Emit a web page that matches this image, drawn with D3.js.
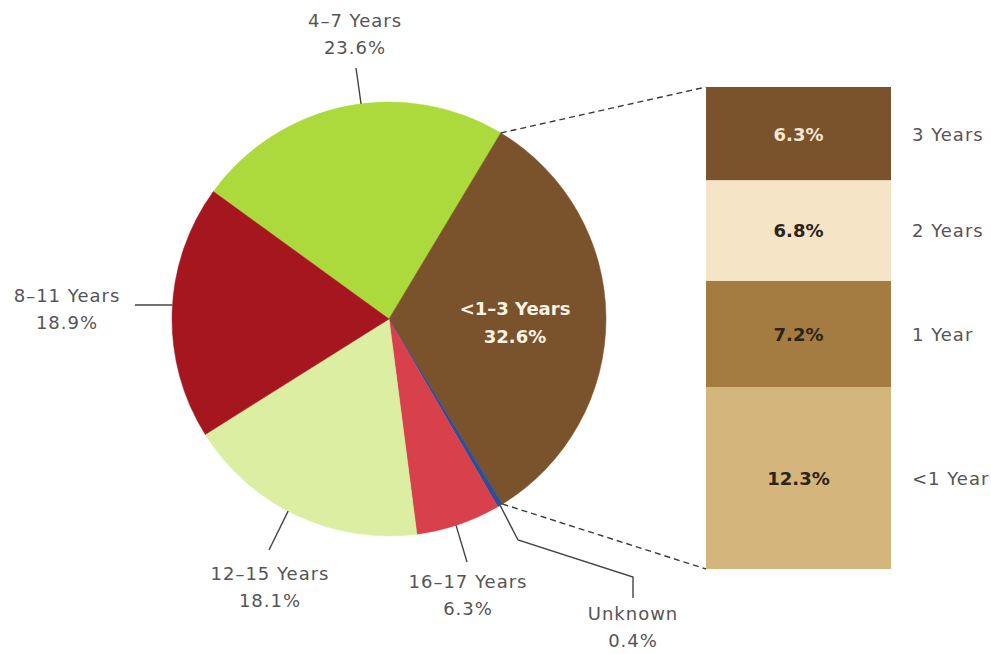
<!DOCTYPE html>
<html>
<head>
<meta charset="utf-8">
<script src="https://cdn.jsdelivr.net/npm/d3@7"></script>
<style>
  html, body { margin: 0; padding: 0; background: #fff; }
  svg { display: block; }
  .lbl { font-family: "DejaVu Sans", sans-serif; font-size: 18px; fill: #555; letter-spacing: 1px; }
  .bold { font-family: "DejaVu Sans", sans-serif; font-size: 18px; font-weight: bold; }
</style>
</head>
<body>
<svg id="chart" width="991" height="654"></svg>
<script>
// Share of cases by time in category
const categories = ["4–7 Years", "<1–3 Years", "Unknown", "16–17 Years", "12–15 Years", "8–11 Years"];
const values = [23.6, 32.6, 0.4, 6.3, 18.1, 18.9];
const sliceColors = ["#acd93b", "#7a532c", "#2c4f96", "#d8404b", "#dbeea2", "#a6161f"];

// Breakdown of the <1–3 Years slice, bottom to top
const subCategories = ["<1 Year", "1 Year", "2 Years", "3 Years"];
const subValues = [12.3, 7.2, 6.8, 6.3];
const subColors = ["#d4b57c", "#a47c41", "#f5e4c6", "#7a532c"];
const subTextColors = ["#2e2316", "#2e2316", "#2e2316", "#f3e6d2"];

const svg = d3.select("#chart");
const deg = Math.PI / 180;

// Pie geometry
const cx = 389, cy = 319, R = 217;
const total = d3.sum(values);
const start = 31 * deg - values[0] / total * 2 * Math.PI;

const pie = d3.pie().sort(null).value(d => d)
  .startAngle(start).endAngle(start + 2 * Math.PI);
const arcs = pie(values);
const arc = d3.arc().innerRadius(0).outerRadius(R);

const g = svg.append("g").attr("transform", `translate(${cx},${cy})`);
g.selectAll("path.slice").data(arcs).join("path")
  .attr("class", "slice")
  .attr("d", arc)
  .attr("fill", (d, i) => sliceColors[i])
  .attr("stroke", (d, i) => sliceColors[i])
  .attr("stroke-width", 0.5);

const onArc = (a, r = R) => [cx + r * Math.sin(a), cy - r * Math.cos(a)];

// Stacked breakdown bar
const bar = { x0: 706, x1: 891, top: 87, bottom: 569 };
const y = d3.scaleLinear().domain([0, d3.sum(subValues)]).range([bar.bottom, bar.top]);
const stacked = [];
subValues.reduce((acc, v, i) => { stacked.push({ i, y0: acc, y1: acc + v, v }); return acc + v; }, 0);

svg.selectAll("rect.seg").data(stacked).join("rect")
  .attr("class", "seg")
  .attr("x", bar.x0).attr("width", bar.x1 - bar.x0)
  .attr("y", d => y(d.y1)).attr("height", d => y(d.y0) - y(d.y1))
  .attr("fill", d => subColors[d.i]);

svg.selectAll("text.segval").data(stacked).join("text")
  .attr("class", "bold segval")
  .attr("x", (bar.x0 + bar.x1) / 2)
  .attr("y", d => (y(d.y0) + y(d.y1)) / 2 + 7)
  .attr("text-anchor", "middle")
  .attr("fill", d => subTextColors[d.i])
  .text(d => d.v.toFixed(1) + "%");

svg.selectAll("text.segname").data(stacked).join("text")
  .attr("class", "lbl segname")
  .attr("x", 912)
  .attr("y", d => (y(d.y0) + y(d.y1)) / 2 + 7)
  .text(d => subCategories[d.i]);

// Dashed connectors from the <1–3 Years slice to the bar
const big = arcs[1];
const pA = onArc(big.startAngle), pB = onArc(big.endAngle);
svg.append("line").attr("x1", pA[0]).attr("y1", pA[1]).attr("x2", bar.x0).attr("y2", y(d3.sum(subValues)))
  .attr("stroke", "#3a3a3a").attr("stroke-width", 1.4).attr("stroke-dasharray", "6,4");
svg.append("line").attr("x1", pB[0]).attr("y1", pB[1]).attr("x2", bar.x0).attr("y2", y(0))
  .attr("stroke", "#3a3a3a").attr("stroke-width", 1.4).attr("stroke-dasharray", "6,4");

// Label inside the large slice
const inside = svg.append("text").attr("class", "bold").attr("fill", "#fbf3e6").attr("text-anchor", "middle");
inside.append("tspan").attr("x", 515).attr("y", 315).text(categories[1]);
inside.append("tspan").attr("x", 515).attr("y", 343).text(values[1].toFixed(1) + "%");

// Outside labels with leader lines: angle on the rim, elbow points, text anchor
const callouts = [
  { i: 0, ang: -7.4, pts: [[356, 68]], tx: 355, ty: 27 },
  { i: 5, ang: 273.7, pts: [[135, 305]], tx: 67, ty: 302 },
  { i: 4, ang: 207.7, pts: [[269, 550]], tx: 270, ty: 580 },
  { i: 3, ang: 162.0, pts: [[467, 562]], tx: 468, ty: 588 },
  { i: 2, ang: null, pts: [[518, 540], [633, 577], [633, 598]], tx: 633, ty: 620 }
];

callouts.forEach(c => {
  const a = c.ang === null ? (arcs[c.i].startAngle + arcs[c.i].endAngle) / 2 : c.ang * deg;
  const p0 = onArc(a);
  svg.append("path")
    .attr("d", d3.line()([p0, ...c.pts]))
    .attr("fill", "none").attr("stroke", "#444").attr("stroke-width", 1.4);
  const t = svg.append("text").attr("class", "lbl").attr("text-anchor", "middle");
  t.append("tspan").attr("x", c.tx).attr("y", c.ty).text(categories[c.i]);
  t.append("tspan").attr("x", c.tx).attr("y", c.ty + 27).text(values[c.i].toFixed(1) + "%");
});
</script>
</body>
</html>
